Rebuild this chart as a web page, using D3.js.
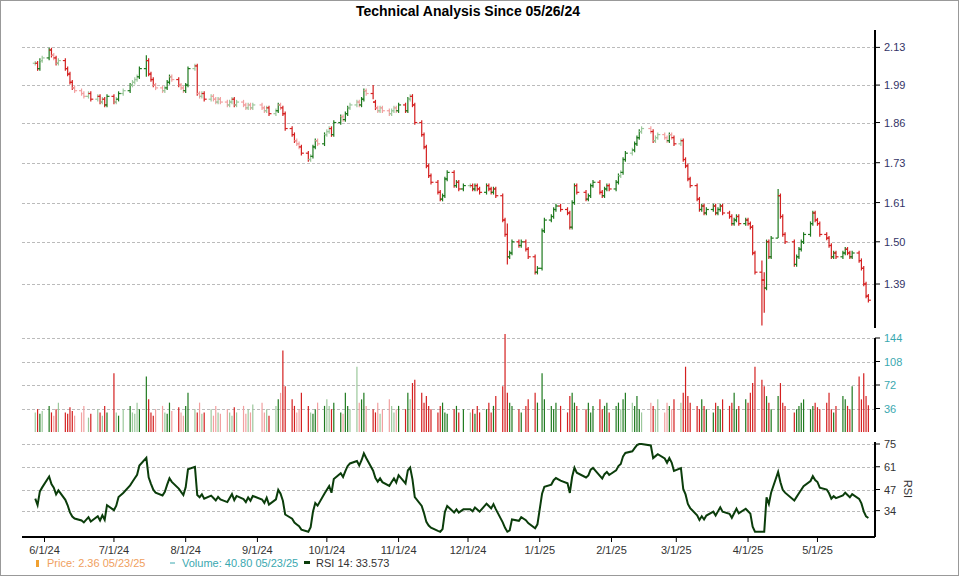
<!DOCTYPE html>
<html>
<head>
<meta charset="utf-8">
<script src="https://cdn.jsdelivr.net/npm/d3@7"></script>
<style>
body { margin: 0; background: #fff; }
svg { font-family: "Liberation Sans", Arial, sans-serif; }
</style>
</head>
<body>
<svg id="chart" width="960" height="576"></svg>
<script>
// closes per month, May 28 2024 .. May 23 2025
var closeMay24 = [2.07,2.05,2.08,2.09];
var closeJun = [2.12,2.10,2.09,2.07,2.08,2.05,2.03,2.00,1.98,1.97,1.96,1.95,1.96,1.94,1.95,1.93,1.94,1.92,1.95];
var closeJul = [1.93,1.94,1.96,1.97,1.99,2.00,2.01,2.02,2.05,2.08,2.03,2.01,1.99,1.98,1.97,1.98,2.00,2.02,2.01,1.99,1.98,1.97];
var closeAug = [1.99,2.05,2.06,1.96,1.95,1.96,1.94,1.95,1.94,1.93,1.94,1.93,1.92,1.93,1.94,1.92,1.93,1.92,1.91,1.92,1.91,1.92];
var closeSep = [1.91,1.90,1.91,1.89,1.90,1.92,1.91,1.89,1.84,1.82,1.80,1.79,1.78,1.76,1.74,1.75,1.78,1.80,1.79,1.82];
var closeOct = [1.83,1.84,1.82,1.86,1.88,1.87,1.89,1.91,1.92,1.93,1.92,1.94,1.97,1.96,1.93,1.91,1.90,1.91,1.90,1.89,1.90,1.91,1.90];
var closeNov = [1.92,1.90,1.94,1.95,1.92,1.86,1.82,1.78,1.72,1.69,1.67,1.64,1.62,1.63,1.68,1.70,1.66,1.67,1.65,1.66];
var closeDec = [1.66,1.65,1.66,1.65,1.64,1.66,1.65,1.64,1.65,1.63,1.56,1.52,1.46,1.47,1.50,1.49,1.50,1.48,1.46,1.42,1.43];
var closeJan = [1.53,1.56,1.57,1.59,1.60,1.59,1.58,1.54,1.61,1.66,1.64,1.62,1.63,1.66,1.67,1.64,1.63,1.65,1.66,1.65];
var closeFeb = [1.67,1.69,1.70,1.74,1.76,1.77,1.79,1.81,1.83,1.84,1.83,1.80,1.81,1.82,1.81,1.80,1.82,1.81,1.79];
var closeMar = [1.80,1.74,1.72,1.68,1.66,1.62,1.59,1.60,1.58,1.59,1.60,1.58,1.59,1.60,1.58,1.57,1.55,1.56,1.57,1.55,1.56];
var closeApr = [1.55,1.54,1.47,1.42,1.40,1.38,1.50,1.46,1.51,1.63,1.57,1.52,1.50,1.44,1.46,1.48,1.50,1.52,1.55,1.58,1.56];
var closeMay25 = [1.55,1.52,1.51,1.49,1.46,1.47,1.46,1.47,1.48,1.47,1.46,1.47,1.45,1.43,1.39,1.36,1.35];

var volMay24 = [30,35,28,32];
var volJun = [40,30,25,35,45,30,28,38,32,25,30,40,22,28,35,30,25,40,30];
var volJul = [90,30,25,35,40,30,28,45,35,85,50,30,25,35,40,30,28,45,32,38,30,25];
var volAug = [40,60,35,30,45,28,30,35,25,40,30,28,35,30,25,38,30,40,28,35,30,42];
var volSep = [45,30,35,25,40,50,60,125,70,50,40,30,35,60,40,30,28,35,45,40];
var volOct = [50,40,35,45,30,28,60,40,35,100,45,50,60,40,35,30,45,28,35,50,40,30,35];
var volNov = [40,35,60,50,75,80,60,45,55,40,35,30,40,45,30,28,35,40,30,35];
var volDec = [30,35,28,40,30,35,45,30,40,55,70,150,60,45,40,35,30,40,50,60,45];
var volJan = [90,50,40,35,45,40,30,55,60,45,40,35,45,30,40,50,35,40,45,30];
var volFeb = [40,45,35,50,60,45,40,55,35,30,45,40,35,50,30,45,40,35,50];
var volMar = [45,60,100,55,45,40,35,50,40,35,30,45,40,35,50,40,45,60,35,40,50];
var volApr = [45,60,75,100,80,70,55,45,35,55,75,45,40,30,35,40,45,50,35,40,45];
var volMay25 = [38,35,45,60,35,30,40,55,50,40,35,70,85,50,90,55,41];

// a few days with long ranges: [date, high, low]
var wicks = [["2024-07-15",2.10,2.02],["2024-10-21",1.99,1.94],["2024-12-18",1.55,1.44],
             ["2025-04-07",1.45,1.29],["2025-04-08",1.42,1.32],["2025-04-14",1.65,1.51]];

var holidays = ["2024-06-19","2024-07-04","2024-09-02","2024-11-28","2024-12-25",
                "2025-01-01","2025-01-09","2025-01-20","2025-02-17","2025-04-18"];
var priceTicks = [2.13,1.99,1.86,1.73,1.61,1.50,1.39];
var volTicks = [36,72,108,144];
var rsiTicks = [34,47,61,75];
var monthTicks = ["2024-06-01","2024-07-01","2024-08-01","2024-09-01","2024-10-01","2024-11-01",
                  "2024-12-01","2025-01-01","2025-02-01","2025-03-01","2025-04-01","2025-05-01"];
// average gain / loss carried in from before the window (RSI near 40 at start)
var rsiSeed = [0.0060, 0.0085];

var closes = [].concat(closeMay24,closeJun,closeJul,closeAug,closeSep,closeOct,closeNov,closeDec,closeJan,closeFeb,closeMar,closeApr,closeMay25);
var vols = [].concat(volMay24,volJun,volJul,volAug,volSep,volOct,volNov,volDec,volJan,volFeb,volMar,volApr,volMay25);

var fmt = d3.timeFormat("%Y-%m-%d");
var parse = d3.timeParse("%Y-%m-%d");
var dates = d3.timeDay.range(parse("2024-05-28"), parse("2025-05-24"))
    .filter(function(d) { return d.getDay() != 0 && d.getDay() != 6 && holidays.indexOf(fmt(d)) < 0; });

var n = Math.min(dates.length, closes.length, vols.length);
var bars = [];
for (var i = 0; i < n; i++) {
    var c = closes[i];
    var o = i == 0 ? c : closes[i - 1];
    var hi = Math.max(o, c) * 1.004, lo = Math.min(o, c) * 0.996;
    wicks.forEach(function(w) { if (w[0] == fmt(dates[i])) { hi = w[1]; lo = w[2]; } });
    var up = c >= o;
    var light = Math.abs(c - o) / o < 0.006;
    var col = up ? (light ? "#9cc89c" : "#1f7a1f") : (light ? "#f2a0a0" : "#d42020");
    bars.push({date: dates[i], o: o, h: hi, l: lo, c: c, v: vols[i], col: col});
}

// RSI 14 (Wilder)
var rsi = [];
var ag = rsiSeed[0], al = rsiSeed[1];
rsi.push({date: dates[0], v: 100 - 100 / (1 + ag / al)});
for (var i = 1; i < n; i++) {
    var ch = closes[i] - closes[i - 1];
    ag = (ag * 13 + Math.max(ch, 0)) / 14;
    al = (al * 13 + Math.max(-ch, 0)) / 14;
    var val = al == 0 ? 100 : 100 - 100 / (1 + ag / al);
    rsi.push({date: dates[i], v: Math.max(21, Math.min(75, val))});
}

var svg = d3.select("#chart");
var L = 22, R = 875;
svg.append("rect").attr("x", 0.5).attr("y", 0.5).attr("width", 958).attr("height", 575)
    .attr("fill", "none").attr("stroke", "#999");
svg.append("text").attr("x", 468).attr("y", 16).attr("text-anchor", "middle")
    .attr("font-size", 14).attr("font-weight", "bold").text("Technical Analysis Since 05/26/24");

var x = d3.scaleTime().domain([parse("2024-05-24"), parse("2025-05-25")]).range([L + 4, R - 2]);
var yP = d3.scaleLog().domain([1.284, 2.19]).range([328, 32]);
var yV = d3.scaleLinear().domain([0, 144]).range([432, 338]);
var yR = d3.scaleLinear().domain([19, 75]).range([535, 444]);

function grid(scale, ticks) {
    svg.append("g").selectAll("line").data(ticks).enter().append("line")
        .attr("x1", L).attr("x2", R).attr("y1", function(d) { return Math.round(scale(d)) + 0.5; })
        .attr("y2", function(d) { return Math.round(scale(d)) + 0.5; })
        .attr("stroke", "#bbb").attr("stroke-dasharray", "3,2");
}
grid(yP, priceTicks); grid(yV, volTicks); grid(yR, rsiTicks);

// OHLC bars
var gb = svg.append("g").selectAll("g").data(bars).enter().append("g")
    .attr("stroke", function(d) { return d.col; }).attr("stroke-width", 1.2);
gb.append("line").attr("x1", function(d) { return x(d.date); }).attr("x2", function(d) { return x(d.date); })
    .attr("y1", function(d) { return yP(d.h); }).attr("y2", function(d) { return yP(d.l); });
gb.append("line").attr("x1", function(d) { return x(d.date) - 2.5; }).attr("x2", function(d) { return x(d.date); })
    .attr("y1", function(d) { return yP(d.o); }).attr("y2", function(d) { return yP(d.o); });
gb.append("line").attr("x1", function(d) { return x(d.date); }).attr("x2", function(d) { return x(d.date) + 2.5; })
    .attr("y1", function(d) { return yP(d.c); }).attr("y2", function(d) { return yP(d.c); });

// volume
svg.append("g").selectAll("line").data(bars).enter().append("line")
    .attr("x1", function(d) { return x(d.date); }).attr("x2", function(d) { return x(d.date); })
    .attr("y1", yV(0)).attr("y2", function(d) { return yV(d.v); })
    .attr("stroke", function(d) { return d.col; }).attr("stroke-width", 1.2);

// RSI
svg.append("path").datum(rsi).attr("fill", "none").attr("stroke", "#0b3d0b").attr("stroke-width", 2)
    .attr("d", d3.line().x(function(d) { return x(d.date); }).y(function(d) { return yR(d.v); }));

// right axes
function rightAxis(scale, ticks, color, y0, y1, fmtf) {
    var g = svg.append("g").attr("transform", "translate(" + R + ",0)");
    g.append("line").attr("y1", y0).attr("y2", y1).attr("stroke", "#000").attr("stroke-width", 2);
    g.selectAll("line.t").data(ticks).enter().append("line").attr("class", "t")
        .attr("x1", 0).attr("x2", 5).attr("y1", function(d) { return scale(d); }).attr("y2", function(d) { return scale(d); })
        .attr("stroke", "#000");
    g.selectAll("text").data(ticks).enter().append("text")
        .attr("x", 9).attr("y", function(d) { return scale(d) + 4; }).attr("font-size", 11)
        .attr("fill", color).text(fmtf);
}
rightAxis(yP, priceTicks, "#333366", 30, 328, function(d) { return d.toFixed(2); });
rightAxis(yV, volTicks, "#3aa8b0", 338, 432, function(d) { return d; });
rightAxis(yR, rsiTicks, "#333", 442, 537, function(d) { return d; });
svg.append("text").attr("transform", "translate(904,489) rotate(90)").attr("text-anchor", "middle")
    .attr("font-size", 11).attr("fill", "#333").text("RSI");

// bottom axis
svg.append("line").attr("x1", L).attr("x2", R).attr("y1", 537).attr("y2", 537).attr("stroke", "#000").attr("stroke-width", 2);
var xt = svg.append("g").selectAll("g").data(monthTicks.map(parse)).enter().append("g")
    .attr("transform", function(d) { return "translate(" + x(d) + ",537)"; });
xt.append("line").attr("y2", 5).attr("stroke", "#000");
xt.append("text").attr("y", 17).attr("text-anchor", "middle").attr("font-size", 11).attr("fill", "#333")
    .text(d3.timeFormat("%-m/%-d/%y"));

// legend
var lg = svg.append("g").attr("font-size", 11);
lg.append("rect").attr("x", 36).attr("y", 560).attr("width", 3).attr("height", 7).attr("fill", "#f0a030");
lg.append("text").attr("x", 47).attr("y", 567).attr("fill", "#f0a060").text("Price: 2.36  05/23/25");
lg.append("line").attr("x1", 170).attr("x2", 175).attr("y1", 563).attr("y2", 563).attr("stroke", "#3aa8b0");
lg.append("text").attr("x", 182).attr("y", 567).attr("fill", "#3aa8b0").text("Volume: 40.80  05/23/25");
lg.append("rect").attr("x", 304).attr("y", 561).attr("width", 6).attr("height", 3).attr("fill", "#0b3d0b");
lg.append("text").attr("x", 316).attr("y", 567).attr("fill", "#333").text("RSI 14: 33.573");
</script>
</body>
</html>
